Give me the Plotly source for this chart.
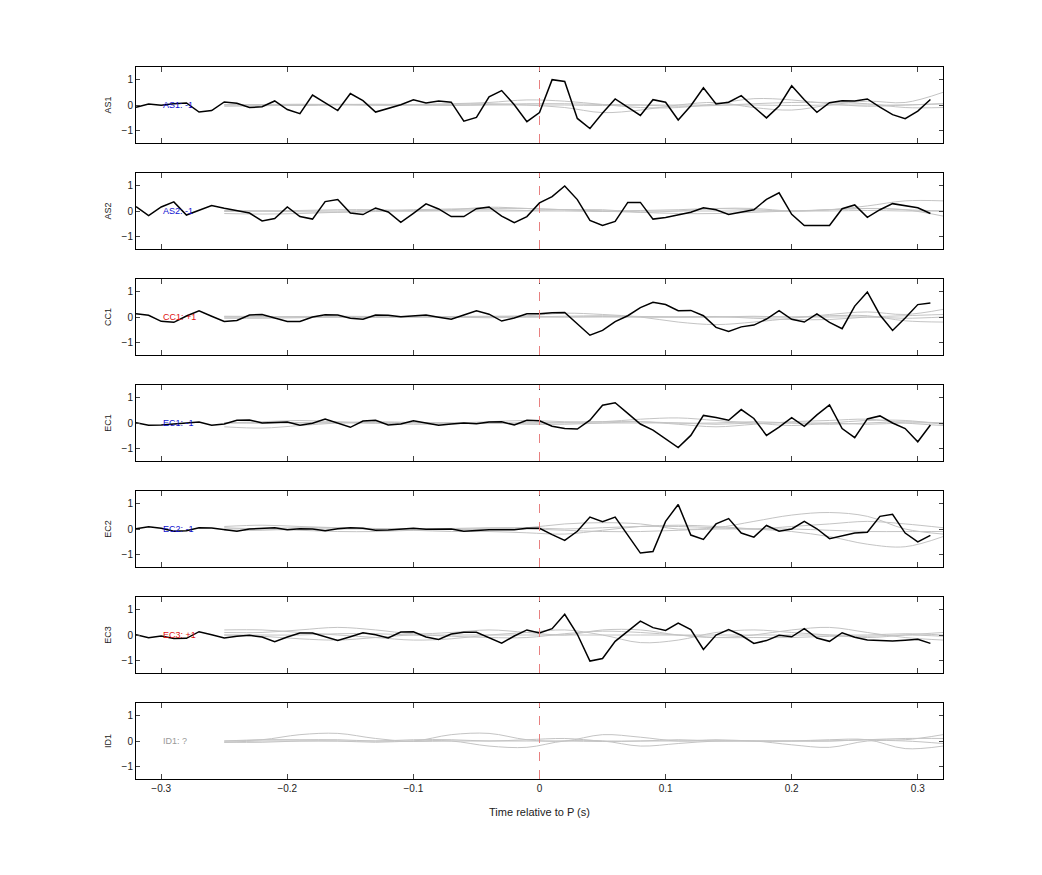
import plotly.graph_objects as go
from plotly.subplots import make_subplots

# Station names and polarity labels.
stations = ["AS1", "AS2", "CC1", "EC1", "EC2", "EC3", "ID1"]
pol_labels = ["AS1: -1", "AS2: -1", "CC1: +1", "EC1: -1", "EC2: -1", "EC3: +1", "ID1: ?"]
pol_colors = ["#1010d0", "#1010d0", "#e01010", "#1010d0", "#1010d0", "#e01010", "#999999"]

# Black traces, sampled every 0.01 s from -0.32 to 0.31.
t_black = [round(-0.32 + 0.01 * i, 2) for i in range(64)]

as1 = [-0.09, 0.04, -0.01, 0.05, 0.08, -0.28, -0.22, 0.12, 0.07, -0.10, -0.07, 0.16, -0.18, -0.34, 0.39, 0.09,
       -0.22, 0.45, 0.17, -0.28, -0.12, 0.01, 0.21, 0.08, 0.16, 0.11, -0.64, -0.49, 0.32, 0.57, 0.01, -0.66,
       -0.30, 1.00, 0.93, -0.53, -0.93, -0.32, 0.24, -0.09, -0.41, 0.21, 0.11, -0.59, -0.03, 0.68, 0.04, 0.11,
       0.37, -0.08, -0.51, -0.04, 0.76, 0.21, -0.29, 0.09, 0.17, 0.16, 0.24, -0.08, -0.38, -0.54, -0.24, 0.22]
as2 = [0.17, -0.18, 0.16, 0.36, -0.16, 0.03, 0.22, 0.11, 0.00, -0.08, -0.39, -0.30, 0.16, -0.22, -0.32, 0.37,
       0.45, -0.08, -0.14, 0.12, -0.04, -0.45, -0.09, 0.28, 0.08, -0.22, -0.22, 0.09, 0.16, -0.20, -0.46, -0.22,
       0.32, 0.57, 0.99, 0.45, -0.37, -0.57, -0.41, 0.34, 0.34, -0.32, -0.26, -0.17, -0.05, 0.13, 0.05, -0.14,
       -0.04, 0.05, 0.46, 0.72, -0.13, -0.57, -0.57, -0.57, 0.09, 0.24, -0.25, 0.05, 0.29, 0.20, 0.13, -0.10]
cc1 = [0.13, 0.07, -0.17, -0.21, 0.04, 0.24, 0.03, -0.18, -0.14, 0.08, 0.10, -0.04, -0.18, -0.18, 0.00, 0.09,
       0.08, -0.05, -0.09, 0.08, 0.07, 0.01, 0.05, 0.08, -0.01, -0.09, 0.08, 0.25, 0.11, -0.16, -0.04, 0.13,
       0.13, 0.17, 0.18, -0.28, -0.72, -0.53, -0.18, 0.05, 0.37, 0.58, 0.49, 0.25, 0.26, 0.05, -0.41, -0.57,
       -0.39, -0.32, -0.08, 0.25, -0.09, -0.20, 0.12, -0.21, -0.46, 0.43, 0.99, 0.08, -0.53, -0.04, 0.49, 0.55]
ec1 = [0.01, -0.09, -0.08, -0.04, -0.01, 0.04, -0.09, -0.04, 0.11, 0.12, 0.00, 0.01, 0.04, -0.09, -0.01, 0.16,
       0.00, -0.17, 0.08, 0.11, -0.08, -0.04, 0.09, -0.01, -0.09, -0.04, 0.00, -0.03, 0.04, 0.05, -0.08, 0.11,
       0.09, -0.13, -0.22, -0.24, 0.11, 0.70, 0.80, 0.38, -0.04, -0.28, -0.62, -0.97, -0.49, 0.30, 0.22, 0.11,
       0.53, 0.18, -0.49, -0.16, 0.21, -0.13, 0.32, 0.71, -0.22, -0.58, 0.16, 0.28, 0.00, -0.22, -0.74, -0.08]
ec2 = [0.01, 0.09, 0.03, -0.09, -0.07, 0.05, 0.04, -0.04, -0.09, 0.00, 0.04, 0.05, -0.03, 0.01, 0.00, -0.07,
       0.01, 0.05, 0.03, -0.05, -0.04, 0.00, 0.03, -0.01, 0.00, 0.00, -0.09, -0.05, -0.03, -0.03, -0.03, 0.03,
       0.03, -0.22, -0.45, -0.09, 0.47, 0.29, 0.47, -0.24, -0.95, -0.89, 0.30, 0.97, -0.24, -0.41, 0.20, 0.41,
       -0.16, -0.32, 0.14, -0.09, 0.00, 0.30, 0.01, -0.38, -0.26, -0.16, -0.13, 0.50, 0.58, -0.16, -0.51, -0.25]
ec3 = [0.01, -0.11, -0.04, -0.14, -0.13, 0.13, 0.01, -0.12, -0.05, -0.01, -0.08, -0.26, -0.08, 0.08, 0.08, -0.07,
       -0.22, -0.07, 0.09, 0.01, -0.12, 0.12, 0.13, -0.08, -0.18, 0.04, 0.11, 0.11, -0.09, -0.32, -0.04, 0.20,
       0.08, 0.25, 0.82, 0.03, -1.03, -0.93, -0.25, 0.16, 0.55, 0.29, 0.18, 0.47, 0.21, -0.57, 0.00, 0.21,
       -0.01, -0.33, -0.22, -0.01, -0.07, 0.25, -0.12, -0.25, 0.09, -0.09, -0.20, -0.22, -0.24, -0.21, -0.17, -0.33]
black = [as1, as2, cc1, ec1, ec2, ec3, None]

# Grey (synthetic) traces, sampled every 0.03 s from -0.25 to 0.32.
t_grey = [round(-0.25 + 0.03 * i, 2) for i in range(20)]

grey = [
    [[0.00, 0.02, 0.03, 0.02, 0.00, 0.02, 0.05, 0.10, 0.20, 0.15, 0.02, -0.10, -0.10, 0.05, 0.25, 0.20, 0.05, -0.05, 0.00, 0.05],
     [-0.05, -0.03, 0.00, 0.03, 0.00, 0.00, 0.03, 0.05, 0.00, -0.10, -0.30, -0.20, 0.00, 0.10, -0.10, -0.20, 0.00, 0.15, 0.10, 0.50],
     [0.02, 0.00, 0.00, 0.02, 0.03, 0.02, 0.00, 0.02, 0.05, 0.05, 0.02, 0.00, -0.05, -0.02, 0.05, 0.10, 0.10, 0.05, -0.10, -0.10],
     [0.00, 0.00, -0.02, 0.00, 0.00, 0.00, -0.02, 0.00, 0.00, 0.00, -0.02, 0.00, 0.00, 0.00, 0.00, -0.02, 0.00, 0.00, 0.00, 0.05]],
    [[-0.10, -0.12, -0.10, -0.05, 0.00, 0.05, 0.08, 0.10, 0.10, 0.05, 0.00, -0.05, 0.00, 0.10, 0.10, 0.00, 0.05, 0.20, 0.40, 0.40],
     [0.00, 0.00, 0.02, 0.05, 0.05, 0.02, 0.05, 0.15, 0.10, 0.05, 0.05, -0.05, -0.10, -0.10, -0.05, 0.00, 0.05, 0.10, 0.05, -0.20],
     [0.02, 0.00, -0.03, -0.05, -0.02, 0.00, 0.03, 0.05, 0.02, 0.05, 0.00, 0.02, 0.05, 0.10, 0.05, 0.00, 0.05, 0.10, 0.05, 0.00],
     [-0.02, 0.00, 0.00, 0.00, 0.02, 0.00, 0.00, 0.00, 0.00, 0.00, -0.02, 0.00, 0.00, 0.00, 0.00, 0.00, 0.00, 0.02, 0.00, 0.00]],
    [[0.00, 0.00, 0.02, 0.03, 0.02, 0.00, 0.02, 0.03, 0.05, 0.15, 0.10, 0.00, -0.20, -0.30, -0.20, -0.05, 0.10, 0.20, 0.10, 0.30],
     [-0.05, -0.05, -0.03, 0.00, 0.00, 0.02, 0.00, -0.03, 0.00, 0.03, 0.05, 0.02, 0.00, 0.00, 0.03, 0.00, 0.05, 0.05, -0.15, -0.20],
     [0.03, 0.02, 0.00, 0.00, -0.02, 0.00, 0.00, 0.02, 0.02, 0.00, 0.02, 0.00, 0.00, 0.02, -0.05, -0.10, -0.10, 0.00, 0.05, 0.10],
     [0.00, 0.00, 0.00, 0.00, 0.00, 0.00, 0.00, 0.00, 0.00, 0.00, 0.00, 0.00, 0.00, 0.00, 0.00, 0.00, 0.00, 0.00, -0.05, 0.00]],
    [[-0.15, -0.20, -0.10, 0.00, 0.05, 0.02, 0.00, 0.05, 0.10, 0.05, 0.05, 0.15, 0.20, 0.10, 0.00, -0.10, 0.00, 0.10, 0.10, -0.05],
     [0.00, 0.05, 0.10, 0.05, 0.00, -0.05, -0.03, 0.00, -0.05, -0.05, 0.00, 0.05, -0.05, -0.15, -0.05, 0.05, 0.10, 0.15, 0.00, -0.10],
     [0.02, 0.00, 0.02, 0.03, 0.00, 0.02, 0.00, -0.02, 0.00, 0.02, 0.05, 0.05, 0.00, 0.00, 0.05, 0.00, -0.05, 0.00, 0.05, 0.00],
     [0.00, 0.00, 0.00, 0.00, 0.00, 0.00, 0.00, 0.00, 0.00, 0.00, 0.00, 0.00, 0.00, -0.05, 0.00, 0.00, 0.00, -0.05, 0.00, 0.00]],
    [[0.10, 0.15, 0.10, 0.05, 0.00, -0.05, -0.10, -0.10, -0.15, -0.20, -0.05, 0.10, 0.15, 0.10, 0.00, -0.10, -0.30, -0.60, -0.70, -0.30],
     [0.05, 0.00, -0.05, -0.10, -0.10, -0.05, -0.02, 0.00, 0.05, 0.20, 0.25, 0.20, 0.00, 0.05, 0.30, 0.55, 0.65, 0.50, 0.00, -0.20],
     [0.00, 0.02, 0.05, 0.05, 0.02, 0.00, 0.02, 0.05, 0.05, 0.00, 0.05, 0.10, 0.10, 0.05, 0.00, 0.10, 0.20, 0.30, 0.20, 0.05],
     [-0.05, -0.05, 0.00, 0.00, 0.00, 0.00, 0.00, 0.00, 0.00, -0.05, -0.10, -0.10, -0.05, 0.00, 0.00, 0.00, -0.05, -0.10, -0.10, -0.10]],
    [[0.20, 0.20, 0.10, 0.00, -0.10, -0.20, -0.15, 0.00, 0.10, 0.20, 0.00, -0.30, -0.20, 0.10, 0.20, 0.10, 0.00, -0.10, 0.00, 0.10],
     [0.10, 0.10, 0.20, 0.30, 0.20, 0.05, 0.10, 0.20, 0.10, 0.00, 0.20, 0.20, 0.00, -0.10, 0.00, 0.20, 0.30, 0.10, -0.10, -0.20],
     [0.00, -0.05, -0.15, -0.20, -0.10, 0.00, -0.05, -0.10, -0.10, 0.05, 0.15, 0.10, 0.00, -0.10, -0.10, -0.10, -0.05, -0.05, 0.00, -0.05],
     [0.00, 0.00, 0.00, 0.05, 0.05, 0.00, 0.00, 0.00, 0.00, 0.00, 0.00, 0.00, 0.00, 0.00, 0.00, 0.00, 0.00, 0.00, 0.05, 0.00]],
    [[0.00, 0.05, 0.25, 0.30, 0.10, 0.00, 0.25, 0.30, 0.05, 0.00, 0.25, 0.15, 0.00, 0.05, 0.00, 0.00, 0.00, 0.05, 0.05, 0.25],
     [-0.05, 0.00, 0.00, 0.00, -0.05, 0.00, 0.00, -0.20, -0.25, 0.00, 0.00, -0.20, -0.10, 0.00, 0.00, -0.15, -0.25, 0.00, 0.00, -0.10],
     [0.00, 0.05, 0.05, 0.05, 0.00, 0.05, 0.05, 0.00, 0.05, 0.10, 0.00, 0.00, 0.05, 0.00, 0.00, 0.00, 0.05, 0.05, -0.30, -0.20],
     [-0.05, -0.05, 0.00, 0.00, 0.00, -0.02, 0.00, 0.00, 0.00, 0.00, -0.02, 0.00, 0.00, 0.00, 0.00, 0.00, 0.00, 0.05, 0.10, 0.10]],
]

n = len(stations)
fig = make_subplots(rows=n, cols=1, shared_xaxes=True, vertical_spacing=30 / 712)

for i in range(n):
    r = i + 1
    for g in grey[i]:
        fig.add_trace(go.Scatter(x=t_grey, y=g, mode="lines", line=dict(color="#c4c4c4", width=1, shape="spline"),
                                 hoverinfo="skip", showlegend=False), row=r, col=1)
    if black[i] is not None:
        fig.add_trace(go.Scatter(x=t_black, y=black[i], mode="lines", line=dict(color="black", width=1.5),
                                 showlegend=False), row=r, col=1)
    xr = "x" if r == 1 else f"x{r}"
    yr = "y" if r == 1 else f"y{r}"
    fig.add_shape(type="line", x0=0, x1=0, y0=0, y1=1, xref=xr, yref=f"{yr} domain",
                  line=dict(color="#e88080", width=1, dash="dash"))
    fig.add_annotation(x=-0.3, y=0, xref=xr, yref=yr, text=pol_labels[i], showarrow=False,
                       xanchor="left", font=dict(size=9, color=pol_colors[i]))
    fig.update_yaxes(row=r, col=1, range=[-1.5, 1.5], tickvals=[-1, 0, 1], ticks="inside", ticklen=4,
                     mirror="allticks", showline=True, linecolor="black", linewidth=1, showgrid=False,
                     zeroline=False, title=dict(text=stations[i], font=dict(size=9), standoff=8))
    fig.update_xaxes(row=r, col=1, range=[-0.32, 0.32], tickvals=[-0.3, -0.2, -0.1, 0, 0.1, 0.2, 0.3],
                     ticks="inside", ticklen=5, mirror="allticks", showline=True, linecolor="black",
                     linewidth=1, showgrid=False, zeroline=False, showticklabels=(r == n))

fig.update_xaxes(row=n, col=1, title=dict(text="Time relative to P (s)", font=dict(size=11)))

fig.update_layout(
    width=1042, height=875,
    margin=dict(l=128, r=107, t=59, b=104),
    plot_bgcolor="white", paper_bgcolor="white",
    font=dict(family="Liberation Sans, Arial, sans-serif", size=10, color="#222222"),
)

fig.write_html("out.html")
